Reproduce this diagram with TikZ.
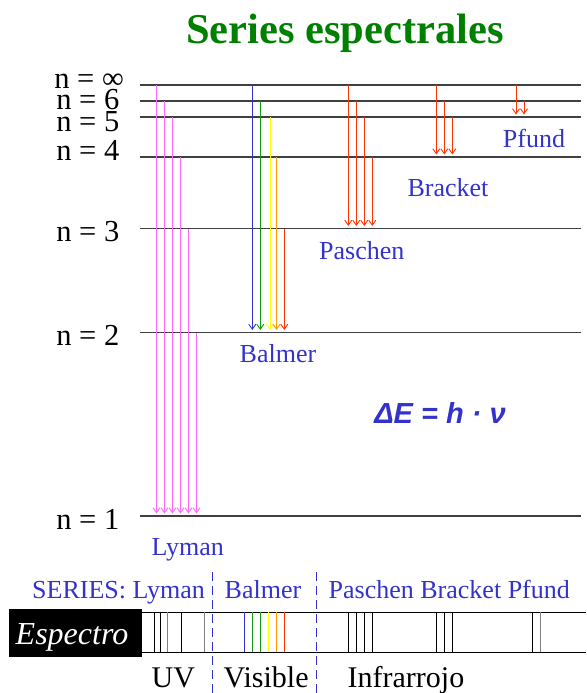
\documentclass[tikz,border=0pt]{standalone}
\usepackage{fontspec}
\setmainfont{Liberation Serif}
\newfontfamily\sansf{Liberation Sans}
\usetikzlibrary{arrows.meta}
\definecolor{lvl}{HTML}{404040}
\definecolor{tblue}{HTML}{3333CC}
\definecolor{tgreen}{HTML}{008000}
\definecolor{lpink}{HTML}{FF66FF}
\definecolor{bblue}{HTML}{3333CC}
\definecolor{bgreen}{HTML}{119911}
\definecolor{byellow}{HTML}{FFFF00}
\definecolor{borange}{HTML}{FF9900}
\definecolor{bred}{HTML}{FF3300}
\definecolor{sgray}{HTML}{808080}
\tikzset{
  level/.style={draw=lvl, line width=1.2pt},
  nlab/.style={anchor=base east, inner sep=0pt, font=\fontsize{30.5}{31}\selectfont},
  trans/.style={line width=0.9pt, -{Straight Barb[length=5pt,width=7pt]}},
  serlab/.style={anchor=base west, inner sep=0pt, text=tblue, font=\fontsize{26}{28}\selectfont},
  rangelab/.style={anchor=base west, inner sep=0pt, font=\fontsize{30}{32}\selectfont},
  sline/.style={line width=0.8pt},
  divider/.style={draw=tblue, line width=1.5pt, dash pattern=on 9pt off 5pt}
}
\begin{document}
\begin{tikzpicture}[x=1pt,y=-1pt]
\useasboundingbox (0,0) rectangle (586,693);
% levels
\foreach \yy/\nm in {85/linf,101/lsix,117/lfive,157/lfour,228.5/lthree,332.5/ltwo,516/lone}{
  \draw[level] (140,\yy) coordinate (\nm a) -- (581,\yy) coordinate (\nm b);
}
% title
\node[anchor=base, inner sep=0pt, text=tgreen, font=\fontsize{42.5}{44}\selectfont\bfseries] (title) at (345,44) {Series espectrales};
% n labels
\node[nlab] (ninf) at (124,88.5) {n = ∞};
\node[nlab] (nsix) at (119.5,109) {n = 6};
\node[nlab] (nfive) at (119.5,131.5) {n = 5};
\node[nlab] (nfour) at (119.5,160.5) {n = 4};
\node[nlab] (nthree) at (119.5,241.5) {n = 3};
\node[nlab] (ntwo) at (119.5,345) {n = 2};
\node[nlab] (none) at (119.5,529) {n = 1};
% Lyman
\foreach \xx/\yy in {156.5/85,164.5/101,172.5/117,180.5/157,188.5/228.5,196.5/332.5}{
  \draw[trans,lpink] (\xx,\yy) -- (\xx,513.5);
}
% Balmer
\draw[trans,bblue] (252.3,85) -- (252.3,330);
\draw[trans,bgreen] (260.3,101) -- (260.3,330);
\draw[trans,byellow] (270,117) -- (270,330);
\draw[trans,borange] (276.5,157) -- (276.5,330);
\draw[trans,bred] (284.3,228.5) -- (284.3,330);
% Paschen
\foreach \xx/\yy in {348.3/85,356.3/101,364.3/117,372.3/157}{
  \draw[trans,bred] (\xx,\yy) -- (\xx,226);
}
% Bracket
\foreach \xx/\yy in {436.3/85,444.3/101,452.3/117}{
  \draw[trans,bred] (\xx,\yy) -- (\xx,154.5);
}
% Pfund
\foreach \xx/\yy in {516/85,524/101}{
  \draw[trans,bred] (\xx,\yy) -- (\xx,114.5);
}
% series labels
\node[serlab] (pfund) at (502.7,147.3) {Pfund};
\node[serlab] (bracket) at (407.3,196) {Bracket};
\node[serlab] (paschen) at (319,259) {Paschen};
\node[serlab] (balmer) at (239.5,362) {Balmer};
\node[serlab] (lyman) at (151.5,555) {Lyman};
% formula
\node[anchor=base, inner sep=0pt, text=tblue, font=\sansf\fontsize{29}{30}\selectfont\bfseries\itshape] (formula) at (440,423.3) {ΔE = h · ν};
% bottom labels
\node[serlab] (s1) at (32,598) {SERIES: Lyman};
\node[serlab] (s2) at (224.5,598) {Balmer};
\node[serlab] (s3) at (328.5,598) {Paschen Bracket Pfund};
% spectrum
\fill[black] (9,609) rectangle (141.7,656.7);
\node[anchor=base, inner sep=0pt, text=white, font=\fontsize{32}{34}\selectfont\itshape] (espectro) at (72,644.3) {Espectro};
\draw[sline] (141.7,612.3) -- (586,612.3);
\draw[sline] (141.7,652.3) -- (586,652.3);
\foreach \xx in {154.3,160,181.7,348.7,356.7,364.3,372.3,436.7,444.7,452.3,532.7}{
  \draw[sline] (\xx,612.3) -- (\xx,652.3);
}
\foreach \xx in {167.7,204.7,540}{
  \draw[sline,sgray] (\xx,612.3) -- (\xx,652.3);
}
\draw[sline,bblue] (244.3,612.3) -- (244.3,652.3);
\draw[sline,bgreen] (252.3,612.3) -- (252.3,652.3);
\draw[sline,bgreen] (260.3,612.3) -- (260.3,652.3);
\draw[sline,byellow] (268.3,612.3) -- (268.3,652.3);
\draw[sline,borange] (276.3,612.3) -- (276.3,652.3);
\draw[sline,bred] (284.7,612.3) -- (284.7,652.3);
% dividers
\draw[divider] (212.7,572) -- (212.7,693);
\draw[divider] (316.7,572) -- (316.7,693);
% range labels
\node[rangelab] (uv) at (151.5,687.3) {UV};
\node[rangelab] (vis) at (223.5,687.3) {Visible};
\node[rangelab] (ir) at (347.5,687.3) {Infrarrojo};
\end{tikzpicture}
\end{document}
